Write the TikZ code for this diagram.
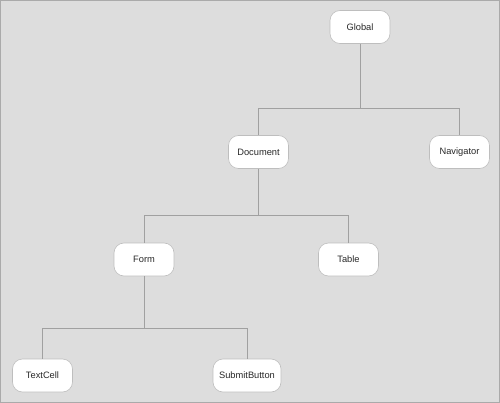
\documentclass[tikz,border=0pt]{standalone}
\usepackage{fontspec}
\setmainfont{Liberation Sans}
\usepackage{tikz}
\usetikzlibrary{positioning, calc}
\definecolor{bggray}{RGB}{221,221,221}
\definecolor{bgframe}{RGB}{170,170,170}
\definecolor{boxframe}{RGB}{190,190,190}
\definecolor{linegray}{RGB}{160,160,160}
\definecolor{txtdark}{RGB}{40,40,40}
\tikzset{
  objbox/.style={rectangle, draw=boxframe, fill=white,
    minimum width=60pt, minimum height=33pt, inner sep=2pt,
    font=\fontsize{9.3}{11}\selectfont, text=txtdark,
    rounded corners=10pt, line width=0.6pt},
  conn/.style={color=linegray, line width=0.8pt}
}
\begin{document}
\begin{tikzpicture}[x=1pt, y=-1pt]
  % Background
  \useasboundingbox (0,0) rectangle (500,403);
  \fill[bggray] (0,0) rectangle (500,403);
  \draw[bgframe, line width=1pt] (0.5,0.5) rectangle (499.5,402.5);

  % Objects
  \node[objbox] (global) at (360,27) {Global};
  \node[objbox] (document) at (258.5,152) {Document};
  \node[objbox] (navigator) at (459.5,152) {Navigator};
  \node[objbox] (form) at (144,259.5) {Form};
  \node[objbox] (table) at (348.5,259.5) {Table};
  \node[objbox] (textcell) at (42.5,375.5) {TextCell};
  \node[objbox, minimum width=68pt] (submit) at (247,375.5) {SubmitButton};

  % Branch points
  \coordinate (bar1) at ($(global.south)+(0,65)$);
  \coordinate (bar2) at ($(document.south)+(0,47)$);
  \coordinate (bar3) at ($(form.south)+(0,52)$);

  % Connectors
  \draw[conn] (global.south) -- (bar1);
  \draw[conn] (document.north) |- (bar1) -| (navigator.north);
  \draw[conn] (document.south) -- (bar2);
  \draw[conn] (form.north) |- (bar2) -| (table.north);
  \draw[conn] (form.south) -- (bar3);
  \draw[conn] (textcell.north) |- (bar3) -| (submit.north);
\end{tikzpicture}
\end{document}
